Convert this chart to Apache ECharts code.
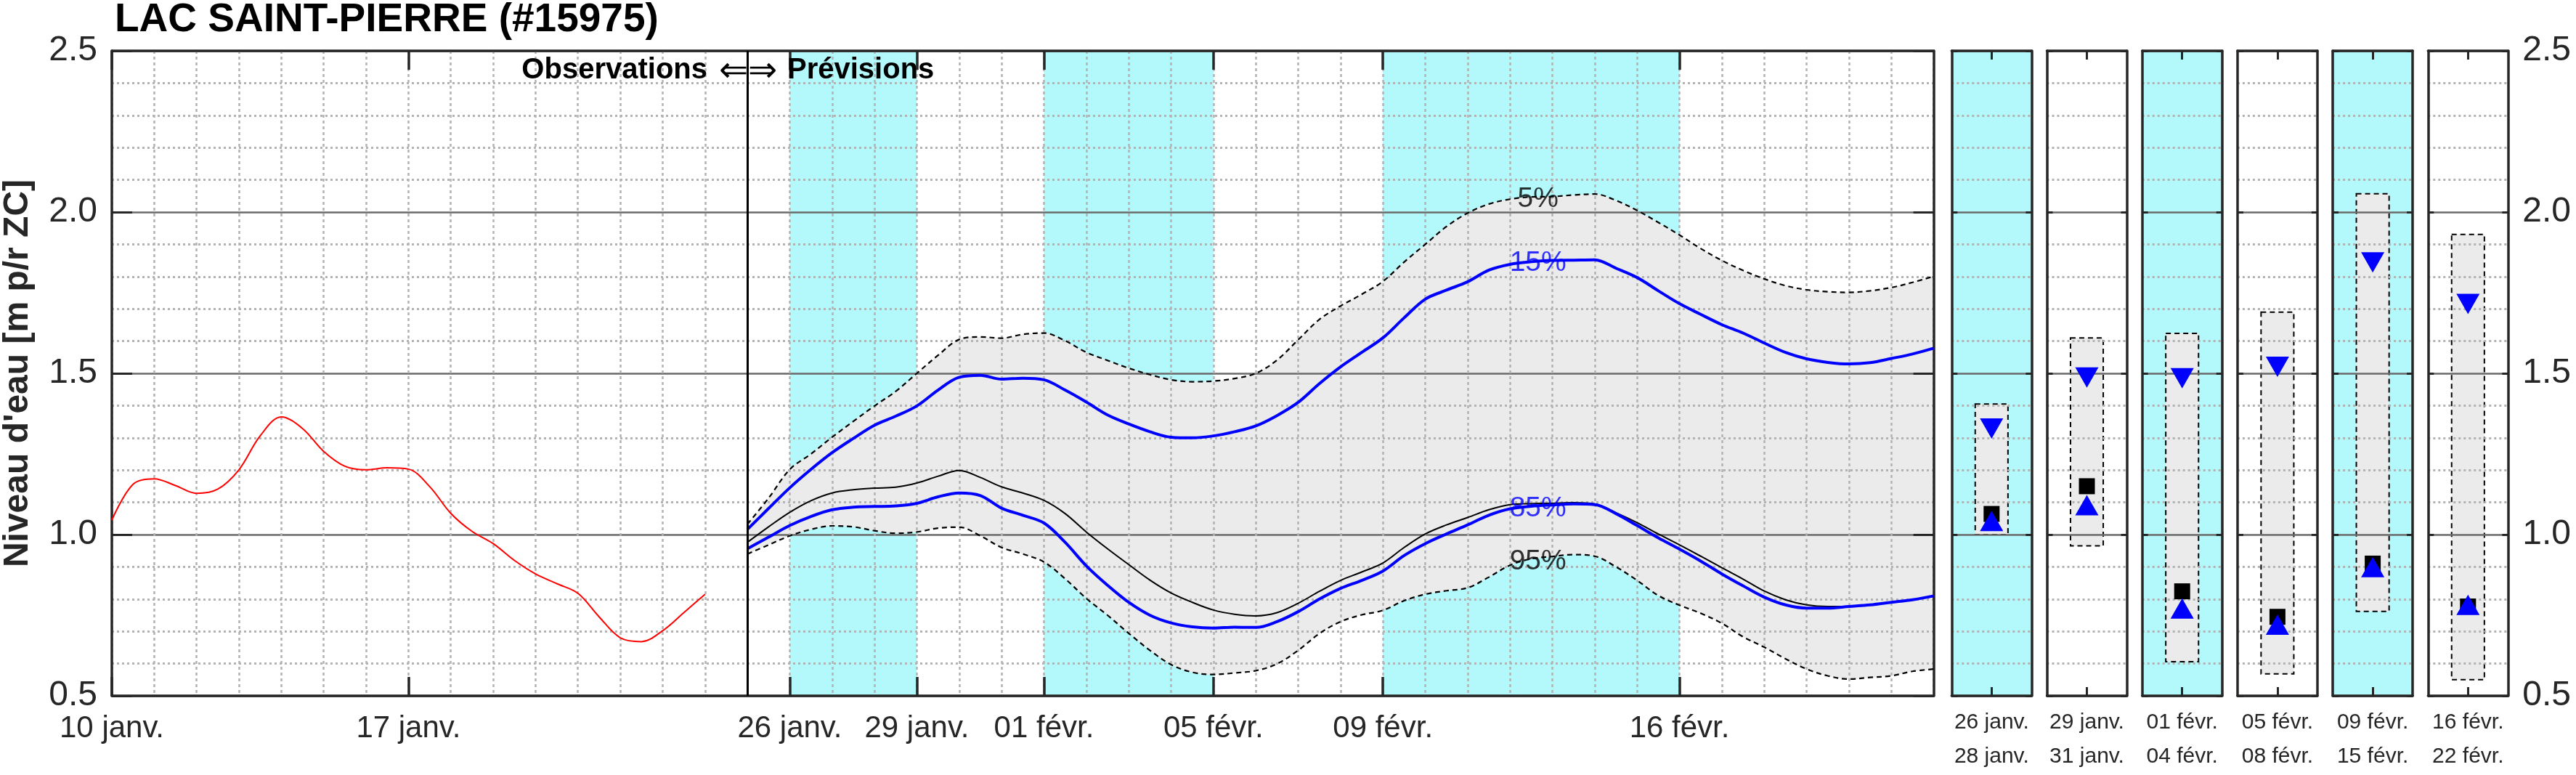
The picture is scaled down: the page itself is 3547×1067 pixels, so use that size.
<!DOCTYPE html>
<html>
<head>
<meta charset="utf-8">
<script src="https://cdn.jsdelivr.net/npm/echarts@6/dist/echarts.min.js"></script>
<style>
html,body{margin:0;padding:0;background:#fff;}
#c{width:3547px;height:1067px;}
</style>
</head>
<body>
<div id="c"></div>
<script>
// ------------------------------------------------------------------
// DATA
// ------------------------------------------------------------------
const titleText = 'LAC SAINT-PIERRE (#15975)';
const yAxisTitle = "Niveau d'eau [m p/r ZC]";
const startDate = [2025, 0, 10];          // 10 janv. 00h, series sampled every 12 h
const nHalfDays = 87;                     // 10 janv. -> 22 févr.
const monthNames = ['janv.', 'févr.'];
const majorTickLabels = ['10 janv.', '17 janv.', '26 janv.', '29 janv.', '01 févr.', '05 févr.', '09 févr.', '16 févr.'];
const dividerLabel = '25 janv.';
const cyanPeriods = [['26 janv.', '29 janv.'], ['01 févr.', '05 févr.'], ['09 févr.', '16 févr.']];
const yTicks = {min: 0.5, max: 2.5, step: 0.5};

// observations (12 h step from 10 janv.)
const obsValues = [1.045, 1.156, 1.173, 1.152, 1.128, 1.141, 1.201, 1.306, 1.365, 1.329,
  1.258, 1.212, 1.201, 1.207, 1.203, 1.149, 1.066, 1.010, 0.972, 0.920,
  0.878, 0.848, 0.818, 0.745, 0.680, 0.668, 0.702, 0.758, 0.815];

// forecasts (12 h step from 25 janv.)
const forecastStart = '25 janv.';
const p05 = [1.032, 1.113, 1.202, 1.250, 1.302, 1.351, 1.399, 1.444, 1.500, 1.556,
  1.605, 1.613, 1.609, 1.621, 1.625, 1.601, 1.565, 1.540, 1.516, 1.496,
  1.480, 1.474, 1.476, 1.484, 1.500, 1.541, 1.604, 1.667, 1.709, 1.745,
  1.785, 1.845, 1.900, 1.955, 1.997, 2.025, 2.040, 2.047, 2.048, 2.053,
  2.056, 2.036, 2.005, 1.968, 1.929, 1.887, 1.850, 1.819, 1.793, 1.772,
  1.759, 1.753, 1.751, 1.756, 1.766, 1.782, 1.801];
const p15 = [1.016, 1.081, 1.145, 1.202, 1.254, 1.298, 1.339, 1.367, 1.399, 1.448,
  1.488, 1.494, 1.482, 1.485, 1.480, 1.448, 1.411, 1.371, 1.343, 1.319,
  1.302, 1.300, 1.306, 1.319, 1.337, 1.369, 1.410, 1.468, 1.520, 1.565,
  1.610, 1.672, 1.730, 1.758, 1.784, 1.820, 1.838, 1.846, 1.850, 1.851,
  1.852, 1.826, 1.797, 1.756, 1.716, 1.683, 1.651, 1.625, 1.594, 1.565,
  1.545, 1.534, 1.529, 1.533, 1.546, 1.560, 1.578];
const p50 = [0.976, 1.024, 1.069, 1.105, 1.129, 1.139, 1.144, 1.147, 1.160, 1.181,
  1.199, 1.177, 1.148, 1.129, 1.106, 1.065, 1.008, 0.956, 0.907, 0.859,
  0.819, 0.790, 0.766, 0.753, 0.748, 0.758, 0.787, 0.824, 0.858, 0.884,
  0.912, 0.960, 1.002, 1.030, 1.053, 1.077, 1.093, 1.096, 1.097, 1.099,
  1.095, 1.068, 1.037, 1.002, 0.968, 0.933, 0.897, 0.862, 0.825, 0.798,
  0.782, 0.777, 0.777, 0.782, 0.790, 0.798, 0.808];
const p85 = [0.956, 0.992, 1.028, 1.056, 1.077, 1.085, 1.087, 1.089, 1.097, 1.117,
  1.129, 1.121, 1.082, 1.060, 1.036, 0.976, 0.903, 0.843, 0.790, 0.750,
  0.726, 0.714, 0.710, 0.713, 0.712, 0.730, 0.761, 0.800, 0.833, 0.858,
  0.887, 0.935, 0.972, 1.002, 1.030, 1.060, 1.080, 1.088, 1.092, 1.095,
  1.093, 1.065, 1.028, 0.990, 0.955, 0.918, 0.878, 0.841, 0.806, 0.782,
  0.772, 0.772, 0.777, 0.782, 0.790, 0.798, 0.810];
const p95 = [0.940, 0.968, 0.996, 1.016, 1.027, 1.024, 1.012, 1.004, 1.008, 1.020,
  1.023, 0.996, 0.960, 0.940, 0.915, 0.863, 0.802, 0.750, 0.694, 0.641,
  0.597, 0.573, 0.566, 0.571, 0.578, 0.599, 0.641, 0.693, 0.730, 0.751,
  0.765, 0.795, 0.815, 0.826, 0.835, 0.868, 0.905, 0.925, 0.932, 0.938,
  0.933, 0.900, 0.858, 0.811, 0.781, 0.756, 0.725, 0.683, 0.651, 0.615,
  0.583, 0.562, 0.552, 0.557, 0.562, 0.576, 0.583];

// inline percentile labels (day counted from 10 janv.)
const pctLabels = [
  {text: '5%',  day: 33.66, value: 2.039},
  {text: '15%', day: 33.66, value: 1.842},
  {text: '85%', day: 33.66, value: 1.080},
  {text: '95%', day: 33.66, value: 0.916}
];

// period summary panels
const periodStart = ['26 janv.', '29 janv.', '01 févr.', '05 févr.', '09 févr.', '16 févr.'];
const periodEnd   = ['28 janv.', '31 janv.', '04 févr.', '08 févr.', '15 févr.', '22 févr.'];
const periodShaded = [true, false, true, false, true, false];
const panelMax    = [1.405, 1.610, 1.624, 1.690, 2.057, 1.931];
const panelMin    = [1.000, 0.965, 0.606, 0.568, 0.762, 0.550];
const panelP15    = [1.329, 1.487, 1.485, 1.520, 1.844, 1.715];
const panelP85    = [1.042, 1.091, 0.771, 0.721, 0.899, 0.782];
const panelMedian = [1.064, 1.150, 0.824, 0.745, 0.910, 0.777];

// ------------------------------------------------------------------
// STYLE / LAYOUT
// ------------------------------------------------------------------
const FONT = "'Liberation Sans', Arial, Helvetica, sans-serif";
const INK = '#262626';
const CYAN = '#b3f8fb';
const FILL = '#ebebeb';
const BLUE = '#0000ff';
const RED = '#ff0000';
const MAJOR_GRID = '#6a6a6a';
const MINOR_GRID = '#b3b3b3';
const SMOOTH = 0.35;
const MAIN = {left: 154, top: 70, width: 2508.6, height: 888};
const PANEL = {left0: 2687.3, pitch: 131.2, width: 110};
const labelColor = {'5%': '#000', '15%': BLUE, '85%': BLUE, '95%': '#000'};
const labelGapDays = {'5%': [32.95, 34.2], '15%': [32.78, 34.52], '85%': [32.78, 34.52], '95%': [32.78, 34.52]};

// ------------------------------------------------------------------
// BUILD
// ------------------------------------------------------------------
function pad2(n) { return (n < 10 ? '0' : '') + n; }
const categories = [];
for (let i = 0; i < nHalfDays; i++) {
  const d = new Date(startDate[0], startDate[1], startDate[2] + Math.floor(i / 2));
  categories.push(pad2(d.getDate()) + ' ' + monthNames[d.getMonth()] + (i % 2 ? ' 12h' : ''));
}
const majorIdx = new Set(majorTickLabels.map(l => categories.indexOf(l)));
const fcStartIndex = categories.indexOf(forecastStart);
const stepsPerDay = 2;

const chart = echarts.init(document.getElementById('c'), null, {renderer: 'canvas', width: 3547, height: 1067});

const grids = [{left: MAIN.left, top: MAIN.top, width: MAIN.width, height: MAIN.height, show: false, outerBoundsMode: 'none', containLabel: false}];
periodStart.forEach((s, p) => {
  grids.push({
    left: PANEL.left0 + p * PANEL.pitch, top: MAIN.top, width: PANEL.width, height: MAIN.height,
    show: true, backgroundColor: periodShaded[p] ? CYAN : '#ffffff', borderWidth: 0,
    outerBoundsMode: 'none', containLabel: false
  });
});

function frameLine() { return {show: true, onZero: false, lineStyle: {color: INK, width: 3.5}}; }

function yAxisDef(gridIndex, position, showLabels, tickLen) {
  return {
    type: 'value', gridIndex, position, min: yTicks.min, max: yTicks.max, interval: yTicks.step, z: 3,
    axisLine: frameLine(),
    axisTick: {show: true, inside: true, length: tickLen, lineStyle: {color: INK, width: 3}},
    axisLabel: {show: showLabels, formatter: v => v.toFixed(1), fontSize: 48, fontFamily: FONT, color: INK, margin: 20},
    splitLine: {show: position === 'left', lineStyle: {color: MAJOR_GRID, width: 2.5}},
    minorTick: {show: false, splitNumber: 5},
    minorSplitLine: {show: position === 'left', lineStyle: {color: MINOR_GRID, width: 3, type: [3, 4]}}
  };
}

const xAxes = [
  {
    type: 'category', gridIndex: 0, position: 'bottom', data: categories, boundaryGap: false, z: 3,
    axisLine: frameLine(),
    axisTick: {show: true, inside: true, length: 26, interval: i => majorIdx.has(i), lineStyle: {color: INK, width: 3.5}},
    axisLabel: {show: true, interval: i => majorIdx.has(i), fontSize: 42, fontFamily: FONT, color: INK, margin: 24},
    splitLine: {show: true, interval: i => i % stepsPerDay === 0, lineStyle: {color: MINOR_GRID, width: 2.5, type: [4, 4]}}
  },
  {
    type: 'category', gridIndex: 0, position: 'top', data: categories, boundaryGap: false, z: 3,
    axisLine: frameLine(),
    axisTick: {show: true, inside: true, length: 26, interval: i => majorIdx.has(i), lineStyle: {color: INK, width: 3.5}},
    axisLabel: {show: false}, splitLine: {show: false}
  },
  {type: 'value', gridIndex: 0, min: 0, max: (nHalfDays - 1) / stepsPerDay, show: false, axisLine: {onZero: false}}
];
const yAxes = [yAxisDef(0, 'left', true, 28), yAxisDef(0, 'right', false, 28)];

periodStart.forEach((s, p) => {
  const g = p + 1;
  const cat = [s + '\n' + periodEnd[p]];
  xAxes.push({
    type: 'category', gridIndex: g, position: 'bottom', data: cat, boundaryGap: true, z: 3,
    axisLine: frameLine(),
    axisTick: {show: true, inside: true, alignWithLabel: true, length: 12, lineStyle: {color: INK, width: 3}},
    axisLabel: {show: true, interval: 0, fontSize: 30, lineHeight: 47, margin: 13.5, fontFamily: FONT, color: INK},
    splitLine: {show: false}
  });
  xAxes.push({
    type: 'category', gridIndex: g, position: 'top', data: cat, boundaryGap: true, z: 3,
    axisLine: frameLine(),
    axisTick: {show: true, inside: true, alignWithLabel: true, length: 12, lineStyle: {color: INK, width: 3}},
    axisLabel: {show: false}, splitLine: {show: false}
  });
  yAxes.push(yAxisDef(g, 'left', false, 8));
  yAxes.push(yAxisDef(g, 'right', p === periodStart.length - 1, 8));
});

const fc = arr => arr.map((v, i) => [fcStartIndex + i, v]);

const series = [];
// 0: cyan shading of alternate periods
series.push({
  type: 'custom', xAxisIndex: 0, yAxisIndex: 0, z: 1, silent: true,
  data: cyanPeriods.map(([a, b]) => [categories.indexOf(a), categories.indexOf(b)]),
  encode: {x: [0, 1]},
  renderItem: (params, api) => {
    const a = api.coord([api.value(0), yTicks.max]);
    const b = api.coord([api.value(1), yTicks.min]);
    return {type: 'rect', shape: {x: a[0], y: a[1], width: b[0] - a[0], height: b[1] - a[1]}, style: {fill: CYAN}};
  }
});
// 1-2: 5%–95% envelope
series.push({
  type: 'line', xAxisIndex: 0, yAxisIndex: 0, stack: 'band', z: 2, smooth: SMOOTH, symbol: 'none', silent: true,
  data: fc(p95), lineStyle: {opacity: 0}
});
series.push({
  type: 'line', xAxisIndex: 0, yAxisIndex: 0, stack: 'band', z: 2, smooth: SMOOTH, symbol: 'none', silent: true,
  data: p05.map((v, i) => [fcStartIndex + i, +(v - p95[i]).toFixed(4)]),
  lineStyle: {opacity: 0}, areaStyle: {color: FILL, opacity: 1}
});
// 3: observations
series.push({
  type: 'line', xAxisIndex: 0, yAxisIndex: 0, z: 4, smooth: SMOOTH, symbol: 'none', silent: true,
  data: obsValues.map((v, i) => [i, v]), lineStyle: {color: RED, width: 2}
});
function pctLine(values, color, width, dash) {
  return {
    type: 'line', xAxisIndex: 0, yAxisIndex: 0, z: 4, smooth: SMOOTH, symbol: 'none', silent: true,
    data: fc(values), lineStyle: {color, width, type: dash || 'solid'}
  };
}
series.push(pctLine(p05, '#000', 2.2, [7, 5]));   // 4
series.push(pctLine(p15, BLUE, 4));               // 5
const med = pctLine(p50, '#000', 2);              // 6
med.markLine = {
  silent: true, symbol: ['none', 'none'], label: {show: false},
  lineStyle: {color: '#000', width: 3, type: 'solid'},
  data: [{xAxis: dividerLabel}]
};
series.push(med);
series.push(pctLine(p85, BLUE, 4));               // 7
series.push(pctLine(p95, '#000', 2.2, [7, 5]));   // 8
// 9: inline labels
series.push({
  type: 'scatter', xAxisIndex: 2, yAxisIndex: 0, z: 5, silent: true, symbolSize: 1,
  itemStyle: {color: 'rgba(0,0,0,0)'},
  data: pctLabels.map(l => ({name: l.text, value: [l.day, l.value], label: {color: labelColor[l.text]}})),
  label: {show: true, position: 'inside', formatter: p => p.name, fontSize: 39, fontFamily: FONT}
});

// panels
periodStart.forEach((s, p) => {
  const xi = 3 + 2 * p, yi = 2 + 2 * p;
  series.push({
    type: 'custom', xAxisIndex: xi, yAxisIndex: yi, z: 2, silent: true,
    data: [[0, panelMin[p], panelMax[p]]], encode: {x: 0, y: [1, 2]},
    renderItem: (params, api) => {
      const top = api.coord([api.value(0), api.value(2)]);
      const bot = api.coord([api.value(0), api.value(1)]);
      const w = api.size([1, 0])[0] * 0.41;
      return {
        type: 'rect', shape: {x: top[0] - w / 2, y: top[1], width: w, height: bot[1] - top[1]},
        style: {fill: FILL, stroke: '#000', lineWidth: 2, lineDash: [7, 5]}
      };
    }
  });
  series.push({type: 'scatter', xAxisIndex: xi, yAxisIndex: yi, z: 4, silent: true,
    data: [[0, panelMedian[p]]], symbol: 'rect', symbolSize: 22, itemStyle: {color: '#000', opacity: 1}});
  series.push({type: 'scatter', xAxisIndex: xi, yAxisIndex: yi, z: 4, silent: true,
    data: [[0, panelP85[p]]], symbol: 'triangle', symbolSize: [32, 28], itemStyle: {color: BLUE, opacity: 1}});
  series.push({type: 'scatter', xAxisIndex: xi, yAxisIndex: yi, z: 4, silent: true,
    data: [[0, panelP15[p]]], symbol: 'triangle', symbolRotate: 180, symbolSize: [32, 28], itemStyle: {color: BLUE, opacity: 1}});
});

function gapVM(seriesIndex, color, text) {
  const g = labelGapDays[text].map(d => d * stepsPerDay);
  return {
    type: 'piecewise', show: false, dimension: 0, seriesIndex,
    pieces: [{lt: g[0], color}, {gte: g[0], lte: g[1], color: 'rgba(0,0,0,0)'}, {gt: g[1], color}]
  };
}

const option = {
  animation: false,
  backgroundColor: '#ffffff',
  grid: grids,
  xAxis: xAxes,
  yAxis: yAxes,
  visualMap: [gapVM(4, '#000', '5%'), gapVM(5, BLUE, '15%'), gapVM(7, BLUE, '85%'), gapVM(8, '#000', '95%')],
  series,
  graphic: {
    elements: [
      {type: 'text', x: 158, y: 28, silent: true, z: 100,
        style: {text: titleText, font: 'bold 55px ' + FONT, fill: '#000', align: 'left', verticalAlign: 'middle'}},
      {type: 'text', x: 974, y: 97, silent: true, z: 100,
        style: {text: 'Observations', font: 'bold 40px ' + FONT, fill: '#000', align: 'right', verticalAlign: 'middle'}},
      {type: 'text', x: 1029.5, y: 99, silent: true, z: 100,
        style: {text: '⇐⇒', font: '48px ' + FONT, fill: '#000', align: 'center', verticalAlign: 'middle'}},
      {type: 'text', x: 1084, y: 97, silent: true, z: 100,
        style: {text: 'Prévisions', font: 'bold 40px ' + FONT, fill: '#000', align: 'left', verticalAlign: 'middle'}},
      {type: 'text', x: 25, y: 514, rotation: Math.PI / 2, silent: true, z: 100,
        style: {text: yAxisTitle, font: 'bold 48px ' + FONT, fill: INK, align: 'center', verticalAlign: 'middle'}}
    ]
  }
};
chart.setOption(option);
</script>
</body>
</html>
